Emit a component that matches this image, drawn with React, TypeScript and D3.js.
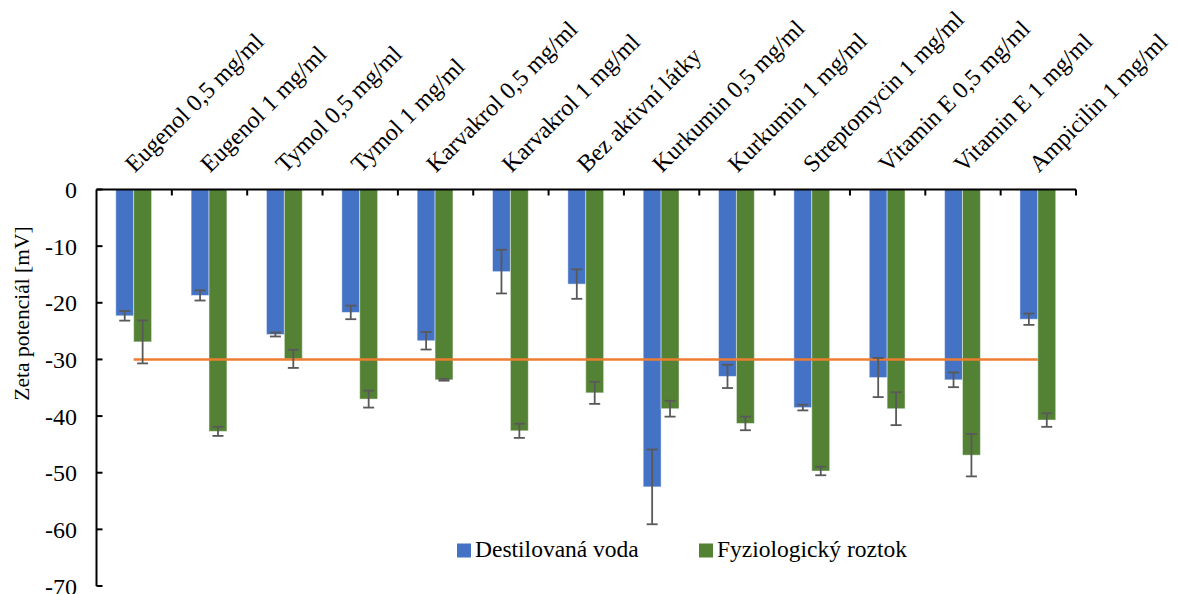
import React from "react";
import * as d3 from "d3";

// Zeta potential of samples in distilled water vs. physiological solution
const categories: string[] = [
  "Eugenol 0,5 mg/ml",
  "Eugenol 1 mg/ml",
  "Tymol 0,5 mg/ml",
  "Tymol 1 mg/ml",
  "Karvakrol 0,5 mg/ml",
  "Karvakrol 1 mg/ml",
  "Bez aktivní látky",
  "Kurkumin 0,5 mg/ml",
  "Kurkumin 1 mg/ml",
  "Streptomycin 1 mg/ml",
  "Vitamin E 0,5 mg/ml",
  "Vitamin E 1 mg/ml",
  "Ampicilin 1 mg/ml",
];

const seriesNames: string[] = ["Destilovaná voda", "Fyziologický roztok"];

const destilovanaVoda: number[] = [-22.3, -18.7, -25.6, -21.7, -26.7, -14.5, -16.7, -52.5, -33.0, -38.5, -33.2, -33.6, -22.9];
const destilovanaVodaErr: number[] = [0.85, 0.9, 0.35, 1.2, 1.55, 3.85, 2.6, 6.6, 2.05, 0.5, 3.45, 1.3, 1.0];

const fyziologickyRoztok: number[] = [-26.9, -42.7, -29.9, -37.0, -33.6, -42.6, -35.9, -38.7, -41.3, -49.7, -38.7, -46.9, -40.7];
const fyziologickyRoztokErr: number[] = [3.8, 0.8, 1.6, 1.5, 0.15, 1.25, 1.95, 1.4, 1.2, 0.75, 2.9, 3.75, 1.2];

const thresholdValue = -30;

const yTicks: number[] = [0, -10, -20, -30, -40, -50, -60, -70];

const W = 1178;
const H = 594;
const FONT = "'Liberation Serif', 'Times New Roman', serif";
const COLORS = ["#4472C4", "#548235"];

export default function App() {
  const left = 96.5;
  const right = 1076;
  const top = 189.5;
  const bottom = 586;

  const x = d3.scaleBand<string>().domain(categories).range([left, right]).padding(0);
  const y = d3.scaleLinear().domain([0, -70]).range([top, bottom]);

  const groupW = x.bandwidth() * 0.475;
  const x1 = d3
    .scaleBand<string>()
    .domain(seriesNames)
    .range([-groupW / 2, groupW / 2])
    .padding(0);

  const values = [destilovanaVoda, fyziologickyRoztok];
  const errors = [destilovanaVodaErr, fyziologickyRoztokErr];

  const center = (c: string) => (x(c) as number) + x.bandwidth() / 2 - 0.5;

  const lineGen = d3
    .line<string>()
    .x((c) => center(c))
    .y(() => y(thresholdValue));

  const capHalf = 5.5;

  return (
    <svg
      width={W}
      height={H}
      style={{ position: "absolute", left: 0, top: 0, display: "block", background: "#fff" }}
      fontFamily={FONT}
    >
      {/* bars */}
      {seriesNames.map((s, si) => (
        <g key={s}>
          {categories.map((c, i) => {
            const v = values[si][i];
            const bx = center(c) + (x1(s) as number);
            return (
              <rect
                key={c}
                x={bx}
                y={y(0)}
                width={x1.bandwidth()}
                height={y(v) - y(0)}
                fill={COLORS[si]}
                stroke="#ffffff"
                strokeOpacity={0.45}
                strokeWidth={1}
              />
            );
          })}
        </g>
      ))}

      {/* threshold line */}
      <path d={lineGen(categories) as string} fill="none" stroke="#ED7D31" strokeWidth={2.5} />

      {/* error bars */}
      {seriesNames.map((s, si) => (
        <g key={s + "-err"} stroke="#595959" strokeWidth={1.8}>
          {categories.map((c, i) => {
            const v = values[si][i];
            const e = errors[si][i];
            const cx = center(c) + (x1(s) as number) + x1.bandwidth() / 2;
            const y1 = y(v + e);
            const y2 = y(v - e);
            return (
              <g key={c}>
                <line x1={cx} x2={cx} y1={y1} y2={y2} />
                <line x1={cx - capHalf} x2={cx + capHalf} y1={y1} y2={y1} />
                <line x1={cx - capHalf} x2={cx + capHalf} y1={y2} y2={y2} />
              </g>
            );
          })}
        </g>
      ))}

      {/* y axis */}
      <line x1={left} x2={left} y1={top} y2={bottom} stroke="#000" strokeWidth={2} />
      {yTicks.map((t) => (
        <g key={t}>
          <line x1={left} x2={left + 6} y1={y(t)} y2={y(t)} stroke="#000" strokeWidth={2} />
          <text x={77} y={y(t)} dy="0.36em" textAnchor="end" fontSize={24} fill="#000">
            {t}
          </text>
        </g>
      ))}

      {/* x axis at zero */}
      <line x1={left} x2={right} y1={top} y2={top} stroke="#000" strokeWidth={2} />
      {categories.map((c) => (
        <line
          key={c}
          x1={(x(c) as number) + x.bandwidth()}
          x2={(x(c) as number) + x.bandwidth()}
          y1={top}
          y2={top + 6}
          stroke="#000"
          strokeWidth={2}
        />
      ))}

      {/* category labels */}
      {categories.map((c) => (
        <text
          key={c}
          transform={`translate(${center(c) + 1},${top - 16}) rotate(-45)`}
          textAnchor="start"
          fontSize={24}
          fill="#000"
        >
          {c}
        </text>
      ))}

      {/* y axis title */}
      <text
        transform={`translate(28.5,313.5) rotate(-90)`}
        textAnchor="middle"
        fontSize={21.5}
        fill="#000"
      >
        Zeta potenciál [mV]
      </text>

      {/* legend */}
      {seriesNames.map((s, si) => {
        const lx = si === 0 ? 457 : 699;
        return (
          <g key={s + "-leg"}>
            <rect x={lx} y={543.5} width={14} height={14} fill={COLORS[si]} />
            <text x={lx + 18} y={557} fontSize={23.5} fill="#000">
              {s}
            </text>
          </g>
        );
      })}
    </svg>
  );
}
